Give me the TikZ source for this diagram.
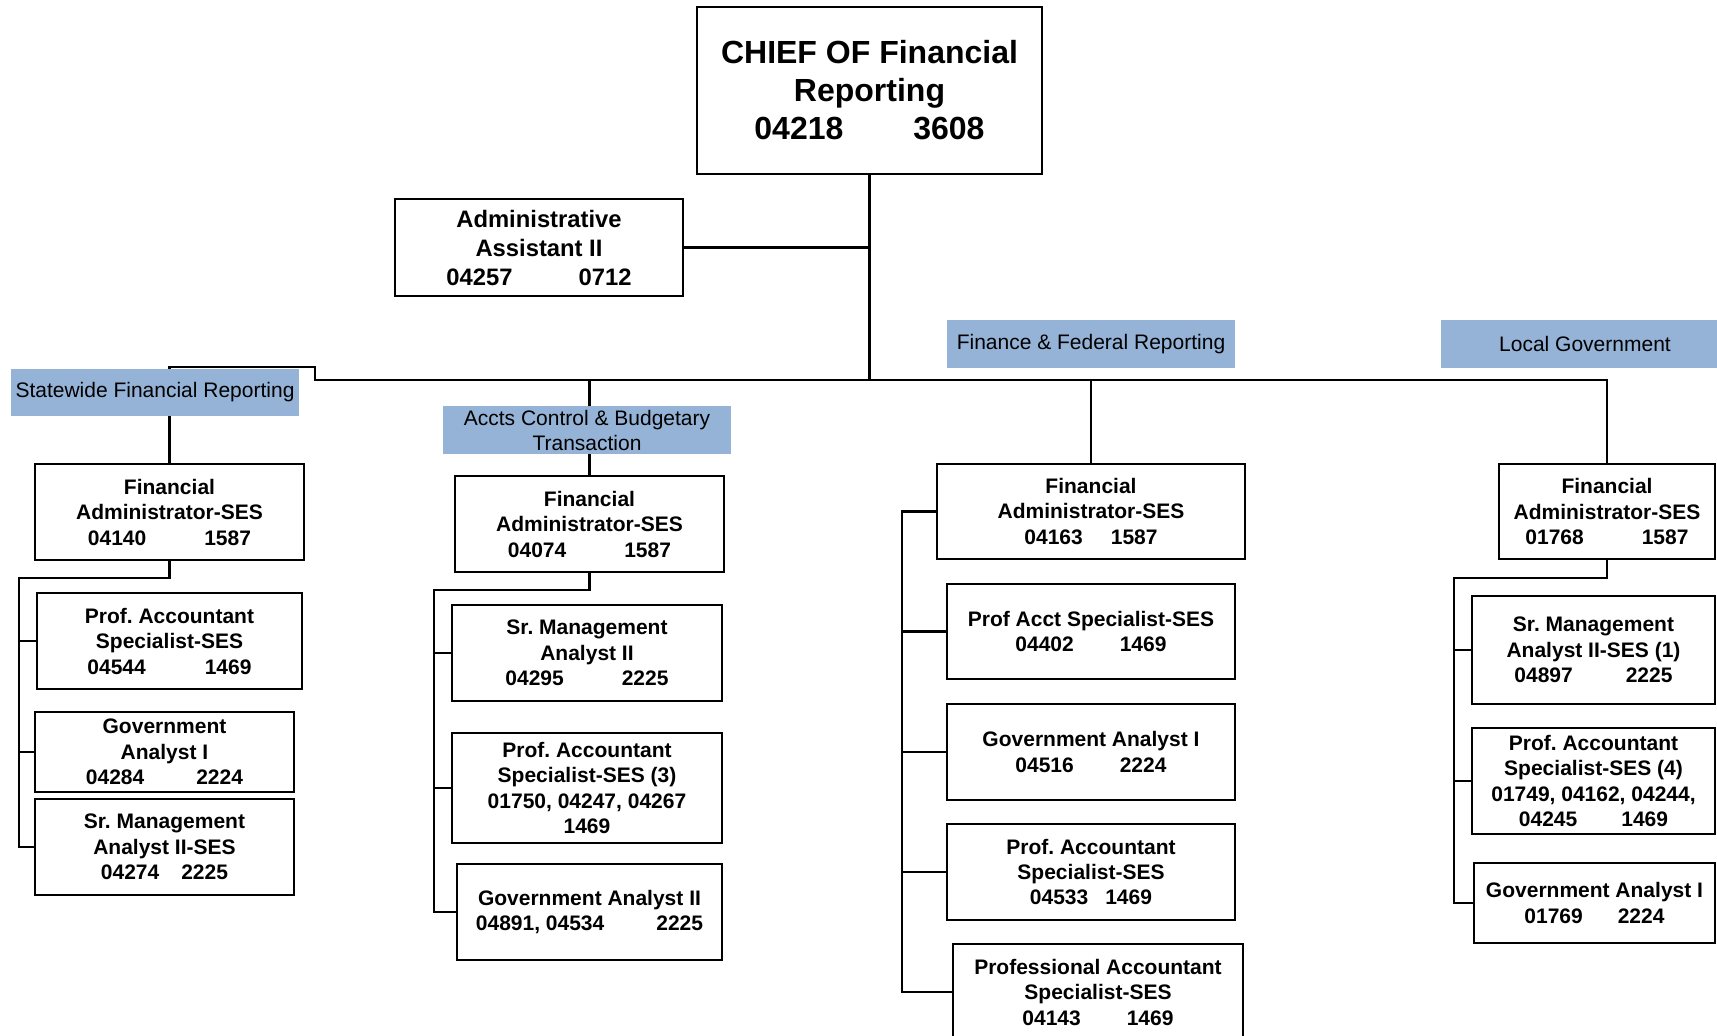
\documentclass[tikz,border=0pt]{standalone}
\usepackage{fontspec}
\setmainfont{Liberation Sans}
\usetikzlibrary{backgrounds}
\definecolor{bannerblue}{RGB}{149,179,215}
% fixed space between position number and class code
\newcommand{\numgap}[1]{\hspace*{#1pt}}
\frenchspacing

\begin{document}
\begin{tikzpicture}[x=1pt,y=-1pt,
  post/.style={draw=black, line width=2.6pt, fill=white, inner sep=0pt, align=center,
               font=\bfseries\fontsize{21}{25.5}\selectfont},
  banner/.style={fill=bannerblue, inner sep=0pt, align=center,
                 font=\fontsize{21}{25}\selectfont},
  link/.style={draw=black, line width=2.2pt}]

\useasboundingbox (0,0) rectangle (1717,1036);
\clip (0,0) rectangle (1717,1036);

% ---- top of the office
\node[post, minimum width=345pt, minimum height=167pt, line width=2.8pt,
      font=\bfseries\fontsize{32}{38}\selectfont] (chief) at (869.5,90.5)
  {CHIEF OF Financial\\Reporting\\04218\numgap{70}3608};
\node[post, minimum width=288pt, minimum height=97pt,
      font=\bfseries\fontsize{23.8}{29}\selectfont] (admin) at (539,247.5)
  {Administrative\\Assistant II\\04257\numgap{66}0712};

% ---- section banners
\node[banner, minimum width=288pt, minimum height=47pt] (sfrB) at (155,392.5) {Statewide Financial Reporting};
\node[banner, minimum width=288pt, minimum height=48pt] (acbtB) at (587,430) {Accts Control \& Budgetary\\Transaction};
\node[banner, minimum width=288pt, minimum height=48pt] (ffrB) at (1091,344) {Finance \& Federal Reporting};
\node[banner, minimum width=288pt, minimum height=48pt] (lgB) at (1585,343.5) {Local Government};

% ---- Statewide Financial Reporting
\node[post, minimum width=269pt, minimum height=96pt] (sfrFA) at (169.5,512)
  {Financial\\Administrator-SES\\04140\numgap{58}1587};
\node[post, minimum width=265pt, minimum height=96pt] (sfrPA) at (169.5,641)
  {Prof. Accountant\\Specialist-SES\\04544\numgap{59}1469};
\node[post, minimum width=259pt, minimum height=80pt] (sfrGA) at (164.5,752)
  {Government\\Analyst I\\04284\numgap{52}2224};
\node[post, minimum width=259pt, minimum height=96pt] (sfrSM) at (164.5,847)
  {Sr. Management\\Analyst II-SES\\04274\numgap{22}2225};

% ---- Accts Control & Budgetary Transaction
\node[post, minimum width=269pt, minimum height=96pt] (acbtFA) at (589.5,524)
  {Financial\\Administrator-SES\\04074\numgap{58}1587};
\node[post, minimum width=270pt, minimum height=96pt] (acbtSM) at (587,653)
  {Sr. Management\\Analyst II\\04295\numgap{58}2225};
\node[post, minimum width=270pt, minimum height=110pt] (acbtPA) at (587,788)
  {Prof. Accountant\\Specialist-SES (3)\\01750, 04247, 04267\\1469};
\node[post, minimum width=265pt, minimum height=96pt] (acbtGA) at (589.5,912)
  {Government Analyst II\\04891, 04534\numgap{52}2225};

% ---- Finance & Federal Reporting
\node[post, minimum width=308pt, minimum height=95pt] (ffrFA) at (1091,511.5)
  {Financial\\Administrator-SES\\04163\numgap{28}1587};
\node[post, minimum width=288pt, minimum height=95pt] (ffrPS) at (1091,631.5)
  {Prof Acct Specialist-SES\\04402\numgap{46}1469};
\node[post, minimum width=288pt, minimum height=96pt] (ffrGA) at (1091,752)
  {Government Analyst I\\04516\numgap{46}2224};
\node[post, minimum width=288pt, minimum height=96pt] (ffrPA) at (1091,872)
  {Prof. Accountant\\Specialist-SES\\04533\numgap{17}1469};
\node[post, minimum width=290pt, minimum height=96pt] (ffrPR) at (1098,992)
  {Professional Accountant\\Specialist-SES\\04143\numgap{46}1469};

% ---- Local Government
\node[post, minimum width=216pt, minimum height=95pt] (lgFA) at (1607,511.5)
  {Financial\\Administrator-SES\\01768\numgap{58}1587};
\node[post, minimum width=243pt, minimum height=108pt] (lgSM) at (1593.5,650)
  {Sr. Management\\Analyst II-SES (1)\\04897\numgap{53}2225};
\node[post, minimum width=243pt, minimum height=106pt] (lgPA) at (1593.5,781)
  {Prof. Accountant\\Specialist-SES (4)\\01749, 04162, 04244,\\04245\numgap{44}1469};
\node[post, minimum width=241pt, minimum height=80pt] (lgGA) at (1594.5,903)
  {Government Analyst I\\01769\numgap{35}2224};

% ---- reporting lines, kept behind boxes and banners
\coordinate (jog) at (315,367);
\coordinate (bus) at (315,380);
\coordinate (sfrTop) at (19,578);
\coordinate (acbtTop) at (434,590);
\coordinate (ffrTop) at (902,511.5);
\coordinate (lgTop) at (1454,578);

\begin{pgfonlayer}{background}
  \draw[link] (chief.south) -- (chief.south |- bus);
  \draw[link] (admin.east) -- (admin.east -| chief.south);
  \draw[link] (sfrFA.north) |- (jog) -- (bus) -| (lgFA.north);
  \draw[link] (acbtFA.north) -- (acbtFA.north |- bus);
  \draw[link] (ffrFA.north) -- (ffrFA.north |- bus);

  \draw[link] (sfrFA.south) |- (sfrTop) |- (sfrSM.west);
  \draw[link] (sfrPA.west) -- (sfrPA.west -| sfrTop);
  \draw[link] (sfrGA.west) -- (sfrGA.west -| sfrTop);

  \draw[link] (acbtFA.south) |- (acbtTop) |- (acbtGA.west);
  \draw[link] (acbtSM.west) -- (acbtSM.west -| acbtTop);
  \draw[link] (acbtPA.west) -- (acbtPA.west -| acbtTop);

  \draw[link] (ffrFA.west) -- (ffrTop) |- (ffrPR.west);
  \draw[link] (ffrPS.west) -- (ffrPS.west -| ffrTop);
  \draw[link] (ffrGA.west) -- (ffrGA.west -| ffrTop);
  \draw[link] (ffrPA.west) -- (ffrPA.west -| ffrTop);

  \draw[link] (lgFA.south) |- (lgTop) |- (lgGA.west);
  \draw[link] (lgSM.west) -- (lgSM.west -| lgTop);
  \draw[link] (lgPA.west) -- (lgPA.west -| lgTop);
\end{pgfonlayer}
\end{tikzpicture}
\end{document}
